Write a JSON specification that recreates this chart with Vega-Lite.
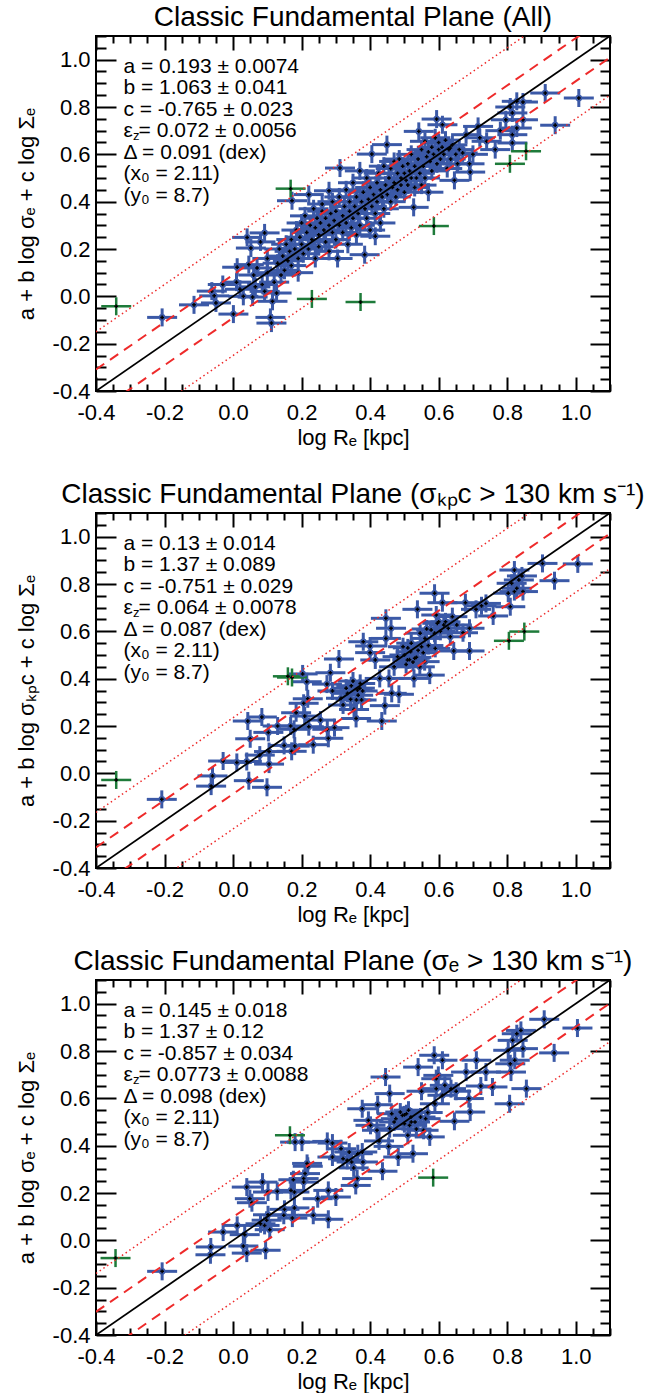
{
"$schema":"https://vega.github.io/schema/vega-lite/v6.json",
"background":"white",
"padding":{"left":14,"top":3,"right":0,"bottom":0},
"config":{
"font":"Liberation Sans",
"view":{"stroke":"black","strokeWidth":2},
"axis":{"grid":false,"domain":false,"tickColor":"black","tickWidth":2,"labelColor":"black","labelFontSize":22,"labelFont":"Liberation Sans","titleFont":"Liberation Sans","titleFontSize":22,"titleFontWeight":"normal","titleColor":"black","labelFlush":false,"labelOverlap":false},
"title":{"fontSize":28,"fontWeight":"normal","font":"Liberation Sans","color":"black","frame":"group","anchor":"middle","offset":-7}
},
"datasets":{
"b1":[{"x":-0.207,"y":-0.089},{"x":-0.114,"y":-0.036},{"x":-0.062,"y":0.022},{"x":-0.055,"y":0.002},{"x":-0.05,"y":-0.028},{"x":-0.03,"y":0.05},{"x":0.001,"y":-0.075},{"x":0.012,"y":0.123},{"x":0.01,"y":0.06},{"x":0.03,"y":0.0},{"x":0.02,"y":0.03},{"x":0.041,"y":0.249},{"x":0.052,"y":0.204},{"x":0.046,"y":0.134},{"x":0.057,"y":-0.003},{"x":0.06,"y":0.09},{"x":0.065,"y":0.04},{"x":0.07,"y":0.12},{"x":0.08,"y":0.23},{"x":0.085,"y":0.05},{"x":0.092,"y":0.268},{"x":0.092,"y":0.021},{"x":0.1,"y":0.16},{"x":0.1,"y":0.1},{"x":0.109,"y":-0.089},{"x":0.112,"y":-0.113},{"x":0.115,"y":-0.021},{"x":0.12,"y":0.06},{"x":0.127,"y":0.014},{"x":0.13,"y":0.14},{"x":0.135,"y":0.2},{"x":0.14,"y":0.09},{"x":0.145,"y":0.17},{"x":0.15,"y":0.11},{"x":0.155,"y":0.22},{"x":0.16,"y":0.15},{"x":0.165,"y":0.19},{"x":0.17,"y":0.13},{"x":0.17,"y":0.24},{"x":0.172,"y":0.404},{"x":0.18,"y":0.2},{"x":0.185,"y":0.28},{"x":0.19,"y":0.16},{"x":0.19,"y":0.1},{"x":0.195,"y":0.25},{"x":0.2,"y":0.31},{"x":0.2,"y":0.22},{"x":0.205,"y":0.18},{"x":0.21,"y":0.34},{"x":0.215,"y":0.27},{"x":0.221,"y":0.43},{"x":0.22,"y":0.2},{"x":0.225,"y":0.3},{"x":0.23,"y":0.24},{"x":0.235,"y":0.37},{"x":0.24,"y":0.16},{"x":0.24,"y":0.29},{"x":0.245,"y":0.33},{"x":0.25,"y":0.26},{"x":0.25,"y":0.21},{"x":0.255,"y":0.31},{"x":0.26,"y":0.36},{"x":0.26,"y":0.39},{"x":0.265,"y":0.28},{"x":0.27,"y":0.23},{"x":0.27,"y":0.33},{"x":0.28,"y":0.446},{"x":0.28,"y":0.3},{"x":0.28,"y":0.19},{"x":0.285,"y":0.35},{"x":0.29,"y":0.27},{"x":0.29,"y":0.4},{"x":0.295,"y":0.32},{"x":0.3,"y":0.24},{"x":0.3,"y":0.36},{"x":0.305,"y":0.16},{"x":0.31,"y":0.3},{"x":0.31,"y":0.42},{"x":0.312,"y":0.542},{"x":0.32,"y":0.34},{"x":0.32,"y":0.27},{"x":0.325,"y":0.38},{"x":0.33,"y":0.31},{"x":0.33,"y":0.45},{"x":0.335,"y":0.22},{"x":0.34,"y":0.36},{"x":0.34,"y":0.4},{"x":0.345,"y":0.29},{"x":0.35,"y":0.33},{"x":0.35,"y":0.48},{"x":0.355,"y":0.38},{"x":0.36,"y":0.26},{"x":0.36,"y":0.42},{"x":0.365,"y":0.35},{"x":0.37,"y":0.53},{"x":0.37,"y":0.3},{"x":0.375,"y":0.4},{"x":0.38,"y":0.44},{"x":0.384,"y":0.176},{"x":0.385,"y":0.37},{"x":0.39,"y":0.33},{"x":0.39,"y":0.5},{"x":0.395,"y":0.41},{"x":0.4,"y":0.46},{"x":0.4,"y":0.28},{"x":0.405,"y":0.601},{"x":0.405,"y":0.38},{"x":0.41,"y":0.43},{"x":0.415,"y":0.254},{"x":0.415,"y":0.35},{"x":0.42,"y":0.48},{"x":0.42,"y":0.4},{"x":0.425,"y":0.52},{"x":0.43,"y":0.45},{"x":0.43,"y":0.31},{"x":0.435,"y":0.42},{"x":0.44,"y":0.55},{"x":0.44,"y":0.37},{"x":0.445,"y":0.47},{"x":0.449,"y":0.641},{"x":0.45,"y":0.43},{"x":0.455,"y":0.5},{"x":0.46,"y":0.4},{"x":0.46,"y":0.54},{"x":0.465,"y":0.46},{"x":0.47,"y":0.57},{"x":0.47,"y":0.48},{"x":0.475,"y":0.42},{"x":0.48,"y":0.52},{"x":0.48,"y":0.45},{"x":0.485,"y":0.58},{"x":0.49,"y":0.5},{"x":0.49,"y":0.47},{"x":0.495,"y":0.55},{"x":0.5,"y":0.52},{"x":0.5,"y":0.44},{"x":0.505,"y":0.49},{"x":0.51,"y":0.56},{"x":0.51,"y":0.47},{"x":0.515,"y":0.53},{"x":0.52,"y":0.5},{"x":0.52,"y":0.6},{"x":0.527,"y":0.376},{"x":0.53,"y":0.46},{"x":0.53,"y":0.55},{"x":0.535,"y":0.5},{"x":0.542,"y":0.697},{"x":0.54,"y":0.58},{"x":0.545,"y":0.52},{"x":0.55,"y":0.62},{"x":0.55,"y":0.47},{"x":0.555,"y":0.55},{"x":0.56,"y":0.655},{"x":0.56,"y":0.5},{"x":0.565,"y":0.59},{"x":0.57,"y":0.61},{"x":0.57,"y":0.44},{"x":0.575,"y":0.57},{"x":0.58,"y":0.63},{"x":0.58,"y":0.53},{"x":0.585,"y":0.6},{"x":0.59,"y":0.67},{"x":0.594,"y":0.749},{"x":0.595,"y":0.56},{"x":0.6,"y":0.62},{"x":0.6,"y":0.65},{"x":0.605,"y":0.58},{"x":0.611,"y":0.725},{"x":0.61,"y":0.63},{"x":0.615,"y":0.6},{"x":0.62,"y":0.66},{"x":0.625,"y":0.54},{"x":0.63,"y":0.62},{"x":0.634,"y":0.627},{"x":0.635,"y":0.58},{"x":0.64,"y":0.64},{"x":0.646,"y":0.49},{"x":0.65,"y":0.6},{"x":0.655,"y":0.56},{"x":0.66,"y":0.62},{"x":0.67,"y":0.606},{"x":0.68,"y":0.683},{"x":0.69,"y":0.56},{"x":0.692,"y":0.525},{"x":0.7,"y":0.6},{"x":0.715,"y":0.718},{"x":0.72,"y":0.67},{"x":0.74,"y":0.655},{"x":0.765,"y":0.62},{"x":0.78,"y":0.7},{"x":0.796,"y":0.746},{"x":0.809,"y":0.8},{"x":0.815,"y":0.775},{"x":0.815,"y":0.683},{"x":0.815,"y":0.648},{"x":0.828,"y":0.711},{"x":0.828,"y":0.824},{"x":0.846,"y":0.821},{"x":0.846,"y":0.746},{"x":0.911,"y":0.859},{"x":0.94,"y":0.723},{"x":1.009,"y":0.838}],
"g1":[{"x":-0.341,"y":-0.042},{"x":0.168,"y":0.455},{"x":0.23,"y":-0.011},{"x":0.372,"y":-0.024},{"x":0.586,"y":0.297},{"x":0.808,"y":0.56},{"x":0.855,"y":0.613}],
"b2":[{"x":-0.208,"y":-0.11},{"x":-0.06,"y":-0.011},{"x":-0.064,"y":-0.054},{"x":-0.029,"y":0.052},{"x":0.011,"y":0.046},{"x":0.046,"y":-0.031},{"x":0.04,"y":0.05},{"x":0.099,"y":-0.059},{"x":0.043,"y":0.221},{"x":0.05,"y":0.146},{"x":0.084,"y":0.238},{"x":0.078,"y":0.077},{"x":0.105,"y":0.092},{"x":0.105,"y":0.039},{"x":0.103,"y":0.173},{"x":0.13,"y":0.2},{"x":0.149,"y":0.118},{"x":0.168,"y":0.2},{"x":0.171,"y":0.093},{"x":0.178,"y":0.186},{"x":0.18,"y":0.115},{"x":0.184,"y":0.256},{"x":0.203,"y":0.42},{"x":0.206,"y":0.296},{"x":0.218,"y":0.315},{"x":0.215,"y":0.387},{"x":0.209,"y":0.242},{"x":0.221,"y":0.197},{"x":0.234,"y":0.121},{"x":0.255,"y":0.225},{"x":0.275,"y":0.186},{"x":0.278,"y":0.148},{"x":0.284,"y":0.425},{"x":0.29,"y":0.348},{"x":0.274,"y":0.377},{"x":0.309,"y":0.483},{"x":0.296,"y":0.193},{"x":0.315,"y":0.317},{"x":0.321,"y":0.289},{"x":0.334,"y":0.338},{"x":0.343,"y":0.313},{"x":0.353,"y":0.27},{"x":0.359,"y":0.232},{"x":0.363,"y":0.352},{"x":0.371,"y":0.38},{"x":0.38,"y":0.556},{"x":0.378,"y":0.348},{"x":0.4,"y":0.538},{"x":0.4,"y":0.51},{"x":0.415,"y":0.479},{"x":0.428,"y":0.401},{"x":0.434,"y":0.221},{"x":0.443,"y":0.286},{"x":0.446,"y":0.655},{"x":0.446,"y":0.57},{"x":0.461,"y":0.613},{"x":0.455,"y":0.401},{"x":0.463,"y":0.338},{"x":0.48,"y":0.493},{"x":0.484,"y":0.334},{"x":0.496,"y":0.535},{"x":0.509,"y":0.479},{"x":0.518,"y":0.514},{"x":0.528,"y":0.401},{"x":0.53,"y":0.486},{"x":0.538,"y":0.693},{"x":0.546,"y":0.592},{"x":0.55,"y":0.535},{"x":0.559,"y":0.472},{"x":0.574,"y":0.415},{"x":0.578,"y":0.606},{"x":0.588,"y":0.761},{"x":0.593,"y":0.669},{"x":0.596,"y":0.634},{"x":0.588,"y":0.592},{"x":0.59,"y":0.528},{"x":0.611,"y":0.721},{"x":0.615,"y":0.627},{"x":0.628,"y":0.613},{"x":0.634,"y":0.577},{"x":0.64,"y":0.662},{"x":0.644,"y":0.517},{"x":0.653,"y":0.627},{"x":0.671,"y":0.594},{"x":0.678,"y":0.721},{"x":0.69,"y":0.517},{"x":0.69,"y":0.613},{"x":0.709,"y":0.693},{"x":0.725,"y":0.708},{"x":0.738,"y":0.718},{"x":0.759,"y":0.665},{"x":0.809,"y":0.704},{"x":0.803,"y":0.761},{"x":0.813,"y":0.803},{"x":0.821,"y":0.859},{"x":0.828,"y":0.782},{"x":0.834,"y":0.817},{"x":0.843,"y":0.834},{"x":0.846,"y":0.768},{"x":0.821,"y":0.768},{"x":0.903,"y":0.887},{"x":0.938,"y":0.814},{"x":1.006,"y":0.885},{"x":0.5,"y":0.5},{"x":0.505,"y":0.46},{"x":0.51,"y":0.53},{"x":0.515,"y":0.48},{"x":0.52,"y":0.55},{"x":0.525,"y":0.47},{"x":0.535,"y":0.49},{"x":0.54,"y":0.52},{"x":0.545,"y":0.45},{"x":0.555,"y":0.51},{"x":0.56,"y":0.57},{"x":0.565,"y":0.61},{"x":0.57,"y":0.54},{"x":0.36,"y":0.31},{"x":0.365,"y":0.33},{"x":0.37,"y":0.36},{"x":0.375,"y":0.31},{"x":0.6,"y":0.64},{"x":0.605,"y":0.6},{"x":0.62,"y":0.64},{"x":0.33,"y":0.36},{"x":0.345,"y":0.37},{"x":0.35,"y":0.39},{"x":0.47,"y":0.45}],
"g2":[{"x":-0.341,"y":-0.028},{"x":0.16,"y":0.41},{"x":0.172,"y":0.405},{"x":0.805,"y":0.56},{"x":0.85,"y":0.599}],
"b3":[{"x":-0.207,"y":-0.131},{"x":-0.065,"y":-0.028},{"x":-0.066,"y":-0.061},{"x":-0.029,"y":0.035},{"x":0.012,"y":0.063},{"x":0.034,"y":0.024},{"x":0.03,"y":-0.024},{"x":0.04,"y":-0.054},{"x":0.095,"y":-0.042},{"x":0.04,"y":0.225},{"x":0.049,"y":0.176},{"x":0.055,"y":0.159},{"x":0.086,"y":0.246},{"x":0.102,"y":0.204},{"x":0.08,"y":0.07},{"x":0.092,"y":0.063},{"x":0.098,"y":0.085},{"x":0.102,"y":0.108},{"x":0.107,"y":0.045},{"x":0.129,"y":0.207},{"x":0.15,"y":0.131},{"x":0.148,"y":0.106},{"x":0.169,"y":0.211},{"x":0.173,"y":0.094},{"x":0.179,"y":0.137},{"x":0.176,"y":0.256},{"x":0.179,"y":0.204},{"x":0.181,"y":0.415},{"x":0.201,"y":0.415},{"x":0.206,"y":0.261},{"x":0.21,"y":0.282},{"x":0.216,"y":0.325},{"x":0.218,"y":0.313},{"x":0.206,"y":0.246},{"x":0.234,"y":0.106},{"x":0.247,"y":0.176},{"x":0.275,"y":0.418},{"x":0.29,"y":0.411},{"x":0.278,"y":0.211},{"x":0.278,"y":0.089},{"x":0.29,"y":0.352},{"x":0.3,"y":0.183},{"x":0.315,"y":0.387},{"x":0.321,"y":0.345},{"x":0.333,"y":0.338},{"x":0.339,"y":0.373},{"x":0.346,"y":0.331},{"x":0.352,"y":0.306},{"x":0.358,"y":0.232},{"x":0.362,"y":0.261},{"x":0.364,"y":0.366},{"x":0.377,"y":0.373},{"x":0.379,"y":0.331},{"x":0.395,"y":0.507},{"x":0.377,"y":0.556},{"x":0.401,"y":0.486},{"x":0.42,"y":0.465},{"x":0.422,"y":0.573},{"x":0.426,"y":0.42},{"x":0.436,"y":0.292},{"x":0.445,"y":0.69},{"x":0.454,"y":0.397},{"x":0.457,"y":0.62},{"x":0.457,"y":0.472},{"x":0.463,"y":0.535},{"x":0.475,"y":0.514},{"x":0.482,"y":0.352},{"x":0.488,"y":0.542},{"x":0.494,"y":0.528},{"x":0.5,"y":0.493},{"x":0.506,"y":0.535},{"x":0.51,"y":0.444},{"x":0.515,"y":0.486},{"x":0.519,"y":0.521},{"x":0.525,"y":0.366},{"x":0.531,"y":0.5},{"x":0.54,"y":0.732},{"x":0.547,"y":0.521},{"x":0.55,"y":0.63},{"x":0.556,"y":0.465},{"x":0.562,"y":0.514},{"x":0.574,"y":0.437},{"x":0.587,"y":0.782},{"x":0.589,"y":0.577},{"x":0.593,"y":0.683},{"x":0.593,"y":0.641},{"x":0.599,"y":0.697},{"x":0.611,"y":0.761},{"x":0.611,"y":0.613},{"x":0.618,"y":0.655},{"x":0.636,"y":0.641},{"x":0.646,"y":0.503},{"x":0.651,"y":0.63},{"x":0.68,"y":0.711},{"x":0.688,"y":0.599},{"x":0.692,"y":0.542},{"x":0.71,"y":0.761},{"x":0.723,"y":0.652},{"x":0.738,"y":0.711},{"x":0.757,"y":0.648},{"x":0.803,"y":0.803},{"x":0.807,"y":0.577},{"x":0.809,"y":0.746},{"x":0.811,"y":0.711},{"x":0.816,"y":0.845},{"x":0.822,"y":0.761},{"x":0.828,"y":0.873},{"x":0.84,"y":0.887},{"x":0.846,"y":0.81},{"x":0.856,"y":0.641},{"x":0.908,"y":0.934},{"x":0.937,"y":0.792},{"x":1.005,"y":0.897},{"x":0.5,"y":0.53},{"x":0.512,"y":0.55},{"x":0.52,"y":0.5},{"x":0.535,"y":0.47},{"x":0.47,"y":0.5},{"x":0.568,"y":0.54}],
"g3":[{"x":-0.343,"y":-0.075},{"x":0.166,"y":0.444},{"x":0.584,"y":0.265}]
},
"spacing":21,
"vconcat":[
{"spacing":31,"vconcat":[
{
"width":514,"height":355,
"title":{"text":"Classic Fundamental Plane (All)"},
"resolve":{"axis":{"x":"independent","y":"independent"}},
"layer":[
{"data":{"name":"b1"},"mark":{"type":"tick","orient":"horizontal","size":30,"thickness":3,"color":"#3b59a7","opacity":1},
"encoding":{"x":{"field":"x","type":"quantitative","scale":{"domain":[-0.4,1.1],"nice":false,"zero":false},"axis":{"orient":"bottom","values":[-0.4,-0.35,-0.3,-0.25,-0.2,-0.15,-0.1,-0.05,0,0.05,0.1,0.15,0.2,0.25,0.3,0.35,0.4,0.45,0.5,0.55,0.6,0.65,0.7,0.75,0.8,0.85,0.9,0.95,1,1.05,1.1],"labelExpr":"abs(datum.value*5-round(datum.value*5))<0.001 ? (datum.value<-0.001 ? '-' : '') + format(abs(datum.value),'.1f') : ''","tickSize":{"condition":{"test":"abs(datum.value*5-round(datum.value*5))<0.001","value":-14},"value":-7},"labelPadding":25,"title":"log Rₑ [kpc]","titlePadding":-3}},
"y":{"field":"y","type":"quantitative","scale":{"domain":[-0.4,1.1],"nice":false,"zero":false},"axis":{"orient":"left","values":[-0.4,-0.35,-0.3,-0.25,-0.2,-0.15,-0.1,-0.05,0,0.05,0.1,0.15,0.2,0.25,0.3,0.35,0.4,0.45,0.5,0.55,0.6,0.65,0.7,0.75,0.8,0.85,0.9,0.95,1,1.05,1.1],"labelExpr":"abs(datum.value*5-round(datum.value*5))<0.001 ? (datum.value<-0.001 ? '-' : '') + format(abs(datum.value),'.1f') : ''","tickSize":{"condition":{"test":"abs(datum.value*5-round(datum.value*5))<0.001","value":-20},"value":-10},"labelPadding":26,"title":"a + b log σₑ + c log Σₑ","titlePadding":14}}}},
{"data":{"name":"b1"},"mark":{"type":"tick","orient":"vertical","size":18,"thickness":3,"color":"#3b59a7","opacity":1},
"encoding":{"x":{"field":"x","type":"quantitative","scale":{"domain":[-0.4,1.1],"nice":false,"zero":false},"axis":{"orient":"top","values":[-0.4,-0.35,-0.3,-0.25,-0.2,-0.15,-0.1,-0.05,0,0.05,0.1,0.15,0.2,0.25,0.3,0.35,0.4,0.45,0.5,0.55,0.6,0.65,0.7,0.75,0.8,0.85,0.9,0.95,1,1.05,1.1],"labels":false,"title":null,"tickSize":{"condition":{"test":"abs(datum.value*5-round(datum.value*5))<0.001","value":-14},"value":-7}}},
"y":{"field":"y","type":"quantitative","scale":{"domain":[-0.4,1.1],"nice":false,"zero":false},"axis":{"orient":"right","values":[-0.4,-0.35,-0.3,-0.25,-0.2,-0.15,-0.1,-0.05,0,0.05,0.1,0.15,0.2,0.25,0.3,0.35,0.4,0.45,0.5,0.55,0.6,0.65,0.7,0.75,0.8,0.85,0.9,0.95,1,1.05,1.1],"labels":false,"title":null,"tickSize":{"condition":{"test":"abs(datum.value*5-round(datum.value*5))<0.001","value":-20},"value":-10}}}}},
{"data":{"name":"g1"},"mark":{"type":"tick","orient":"horizontal","size":30,"thickness":2.5,"color":"#1e7b3a","opacity":1},"encoding":{"x":{"field":"x","type":"quantitative","scale":{"domain":[-0.4,1.1],"nice":false,"zero":false},"axis":null},"y":{"field":"y","type":"quantitative","scale":{"domain":[-0.4,1.1],"nice":false,"zero":false},"axis":null}}},
{"data":{"name":"g1"},"mark":{"type":"tick","orient":"vertical","size":18,"thickness":2.5,"color":"#1e7b3a","opacity":1},"encoding":{"x":{"field":"x","type":"quantitative","scale":{"domain":[-0.4,1.1],"nice":false,"zero":false},"axis":null},"y":{"field":"y","type":"quantitative","scale":{"domain":[-0.4,1.1],"nice":false,"zero":false},"axis":null}}},
{"data":{"name":"b1"},"mark":{"type":"point","shape":"circle","filled":true,"size":45,"color":"#3b59a7","opacity":1},"encoding":{"x":{"field":"x","type":"quantitative","scale":{"domain":[-0.4,1.1],"nice":false,"zero":false},"axis":null},"y":{"field":"y","type":"quantitative","scale":{"domain":[-0.4,1.1],"nice":false,"zero":false},"axis":null}}},
{"data":{"name":"b1"},"mark":{"type":"point","shape":"cross","filled":true,"size":14,"color":"black","opacity":1},"encoding":{"x":{"field":"x","type":"quantitative","scale":{"domain":[-0.4,1.1],"nice":false,"zero":false},"axis":null},"y":{"field":"y","type":"quantitative","scale":{"domain":[-0.4,1.1],"nice":false,"zero":false},"axis":null}}},
{"data":{"name":"g1"},"mark":{"type":"point","shape":"cross","filled":true,"size":14,"color":"black","opacity":1},"encoding":{"x":{"field":"x","type":"quantitative","scale":{"domain":[-0.4,1.1],"nice":false,"zero":false},"axis":null},"y":{"field":"y","type":"quantitative","scale":{"domain":[-0.4,1.1],"nice":false,"zero":false},"axis":null}}},
{"data":{"values":[{}]},"mark":{"type":"rule","color":"#ee2a2a","strokeWidth":1.5,"strokeDash":[1.5,3],"clip":true},"encoding":{"x":{"datum":-0.4,"type":"quantitative","scale":{"domain":[-0.4,1.1],"nice":false,"zero":false},"axis":null},"y":{"datum":-0.15,"type":"quantitative","scale":{"domain":[-0.4,1.1],"nice":false,"zero":false},"axis":null},"x2":{"datum":1.1},"y2":{"datum":1.35}}},
{"data":{"values":[{}]},"mark":{"type":"rule","color":"#ee2a2a","strokeWidth":1.5,"strokeDash":[1.5,3],"clip":true},"encoding":{"x":{"datum":-0.4,"type":"quantitative","scale":{"domain":[-0.4,1.1],"nice":false,"zero":false},"axis":null},"y":{"datum":-0.65,"type":"quantitative","scale":{"domain":[-0.4,1.1],"nice":false,"zero":false},"axis":null},"x2":{"datum":1.1},"y2":{"datum":0.85}}},
{"data":{"values":[{}]},"mark":{"type":"rule","color":"#ee2a2a","strokeWidth":2,"strokeDash":[10,7],"clip":true},"encoding":{"x":{"datum":-0.4,"type":"quantitative","scale":{"domain":[-0.4,1.1],"nice":false,"zero":false},"axis":null},"y":{"datum":-0.309,"type":"quantitative","scale":{"domain":[-0.4,1.1],"nice":false,"zero":false},"axis":null},"x2":{"datum":1.1},"y2":{"datum":1.191}}},
{"data":{"values":[{}]},"mark":{"type":"rule","color":"#ee2a2a","strokeWidth":2,"strokeDash":[10,7],"clip":true},"encoding":{"x":{"datum":-0.4,"type":"quantitative","scale":{"domain":[-0.4,1.1],"nice":false,"zero":false},"axis":null},"y":{"datum":-0.491,"type":"quantitative","scale":{"domain":[-0.4,1.1],"nice":false,"zero":false},"axis":null},"x2":{"datum":1.1},"y2":{"datum":1.009}}},
{"data":{"values":[{}]},"mark":{"type":"rule","color":"black","strokeWidth":1.8,"clip":true},"encoding":{"x":{"datum":-0.4,"type":"quantitative","scale":{"domain":[-0.4,1.1],"nice":false,"zero":false},"axis":null},"y":{"datum":-0.4,"type":"quantitative","scale":{"domain":[-0.4,1.1],"nice":false,"zero":false},"axis":null},"x2":{"datum":1.1},"y2":{"datum":1.1}}},
{"data":{"values":[{}]},"mark":{"type":"text","align":"left","baseline":"top","fontSize":21,"lineHeight":21.5,"color":"black","text":["a = 0.193 ± 0.0074","b = 1.063 ± 0.041","c = -0.765 ± 0.023","ε  = 0.072 ± 0.0056","Δ = 0.091 (dex)","(x₀ = 2.11)","(y₀ = 8.7)"]},"encoding":{"x":{"datum":-0.32,"type":"quantitative","scale":{"domain":[-0.4,1.1],"nice":false,"zero":false},"axis":null},"y":{"datum":1.017,"type":"quantitative","scale":{"domain":[-0.4,1.1],"nice":false,"zero":false},"axis":null}}},
{"data":{"values":[{}]},"mark":{"type":"text","align":"left","baseline":"alphabetic","fontSize":13,"dx":9.5,"color":"black","text":"z"},"encoding":{"x":{"datum":-0.32,"type":"quantitative","scale":{"domain":[-0.4,1.1],"nice":false,"zero":false},"axis":null},"y":{"datum":0.66,"type":"quantitative","scale":{"domain":[-0.4,1.1],"nice":false,"zero":false},"axis":null}}}
]
},
{
"width":514,"height":355,
"title":{"text":"Classic Fundamental Plane (σₖₚc > 130 km s⁻¹)"},
"resolve":{"axis":{"x":"independent","y":"independent"}},
"layer":[
{"data":{"name":"b2"},"mark":{"type":"tick","orient":"horizontal","size":30,"thickness":3,"color":"#3b59a7","opacity":1},
"encoding":{"x":{"field":"x","type":"quantitative","scale":{"domain":[-0.4,1.1],"nice":false,"zero":false},"axis":{"orient":"bottom","values":[-0.4,-0.35,-0.3,-0.25,-0.2,-0.15,-0.1,-0.05,0,0.05,0.1,0.15,0.2,0.25,0.3,0.35,0.4,0.45,0.5,0.55,0.6,0.65,0.7,0.75,0.8,0.85,0.9,0.95,1,1.05,1.1],"labelExpr":"abs(datum.value*5-round(datum.value*5))<0.001 ? (datum.value<-0.001 ? '-' : '') + format(abs(datum.value),'.1f') : ''","tickSize":{"condition":{"test":"abs(datum.value*5-round(datum.value*5))<0.001","value":-14},"value":-7},"labelPadding":25,"title":"log Rₑ [kpc]","titlePadding":-3}},
"y":{"field":"y","type":"quantitative","scale":{"domain":[-0.4,1.1],"nice":false,"zero":false},"axis":{"orient":"left","values":[-0.4,-0.35,-0.3,-0.25,-0.2,-0.15,-0.1,-0.05,0,0.05,0.1,0.15,0.2,0.25,0.3,0.35,0.4,0.45,0.5,0.55,0.6,0.65,0.7,0.75,0.8,0.85,0.9,0.95,1,1.05,1.1],"labelExpr":"abs(datum.value*5-round(datum.value*5))<0.001 ? (datum.value<-0.001 ? '-' : '') + format(abs(datum.value),'.1f') : ''","tickSize":{"condition":{"test":"abs(datum.value*5-round(datum.value*5))<0.001","value":-20},"value":-10},"labelPadding":26,"title":"a + b log σₖₚc + c log Σₑ","titlePadding":14}}}},
{"data":{"name":"b2"},"mark":{"type":"tick","orient":"vertical","size":18,"thickness":3,"color":"#3b59a7","opacity":1},
"encoding":{"x":{"field":"x","type":"quantitative","scale":{"domain":[-0.4,1.1],"nice":false,"zero":false},"axis":{"orient":"top","values":[-0.4,-0.35,-0.3,-0.25,-0.2,-0.15,-0.1,-0.05,0,0.05,0.1,0.15,0.2,0.25,0.3,0.35,0.4,0.45,0.5,0.55,0.6,0.65,0.7,0.75,0.8,0.85,0.9,0.95,1,1.05,1.1],"labels":false,"title":null,"tickSize":{"condition":{"test":"abs(datum.value*5-round(datum.value*5))<0.001","value":-14},"value":-7}}},
"y":{"field":"y","type":"quantitative","scale":{"domain":[-0.4,1.1],"nice":false,"zero":false},"axis":{"orient":"right","values":[-0.4,-0.35,-0.3,-0.25,-0.2,-0.15,-0.1,-0.05,0,0.05,0.1,0.15,0.2,0.25,0.3,0.35,0.4,0.45,0.5,0.55,0.6,0.65,0.7,0.75,0.8,0.85,0.9,0.95,1,1.05,1.1],"labels":false,"title":null,"tickSize":{"condition":{"test":"abs(datum.value*5-round(datum.value*5))<0.001","value":-20},"value":-10}}}}},
{"data":{"name":"g2"},"mark":{"type":"tick","orient":"horizontal","size":30,"thickness":2.5,"color":"#1e7b3a","opacity":1},"encoding":{"x":{"field":"x","type":"quantitative","scale":{"domain":[-0.4,1.1],"nice":false,"zero":false},"axis":null},"y":{"field":"y","type":"quantitative","scale":{"domain":[-0.4,1.1],"nice":false,"zero":false},"axis":null}}},
{"data":{"name":"g2"},"mark":{"type":"tick","orient":"vertical","size":18,"thickness":2.5,"color":"#1e7b3a","opacity":1},"encoding":{"x":{"field":"x","type":"quantitative","scale":{"domain":[-0.4,1.1],"nice":false,"zero":false},"axis":null},"y":{"field":"y","type":"quantitative","scale":{"domain":[-0.4,1.1],"nice":false,"zero":false},"axis":null}}},
{"data":{"name":"b2"},"mark":{"type":"point","shape":"circle","filled":true,"size":45,"color":"#3b59a7","opacity":1},"encoding":{"x":{"field":"x","type":"quantitative","scale":{"domain":[-0.4,1.1],"nice":false,"zero":false},"axis":null},"y":{"field":"y","type":"quantitative","scale":{"domain":[-0.4,1.1],"nice":false,"zero":false},"axis":null}}},
{"data":{"name":"b2"},"mark":{"type":"point","shape":"cross","filled":true,"size":14,"color":"black","opacity":1},"encoding":{"x":{"field":"x","type":"quantitative","scale":{"domain":[-0.4,1.1],"nice":false,"zero":false},"axis":null},"y":{"field":"y","type":"quantitative","scale":{"domain":[-0.4,1.1],"nice":false,"zero":false},"axis":null}}},
{"data":{"name":"g2"},"mark":{"type":"point","shape":"cross","filled":true,"size":14,"color":"black","opacity":1},"encoding":{"x":{"field":"x","type":"quantitative","scale":{"domain":[-0.4,1.1],"nice":false,"zero":false},"axis":null},"y":{"field":"y","type":"quantitative","scale":{"domain":[-0.4,1.1],"nice":false,"zero":false},"axis":null}}},
{"data":{"values":[{}]},"mark":{"type":"rule","color":"#ee2a2a","strokeWidth":1.5,"strokeDash":[1.5,3],"clip":true},"encoding":{"x":{"datum":-0.4,"type":"quantitative","scale":{"domain":[-0.4,1.1],"nice":false,"zero":false},"axis":null},"y":{"datum":-0.165,"type":"quantitative","scale":{"domain":[-0.4,1.1],"nice":false,"zero":false},"axis":null},"x2":{"datum":1.1},"y2":{"datum":1.335}}},
{"data":{"values":[{}]},"mark":{"type":"rule","color":"#ee2a2a","strokeWidth":1.5,"strokeDash":[1.5,3],"clip":true},"encoding":{"x":{"datum":-0.4,"type":"quantitative","scale":{"domain":[-0.4,1.1],"nice":false,"zero":false},"axis":null},"y":{"datum":-0.635,"type":"quantitative","scale":{"domain":[-0.4,1.1],"nice":false,"zero":false},"axis":null},"x2":{"datum":1.1},"y2":{"datum":0.865}}},
{"data":{"values":[{}]},"mark":{"type":"rule","color":"#ee2a2a","strokeWidth":2,"strokeDash":[10,7],"clip":true},"encoding":{"x":{"datum":-0.4,"type":"quantitative","scale":{"domain":[-0.4,1.1],"nice":false,"zero":false},"axis":null},"y":{"datum":-0.313,"type":"quantitative","scale":{"domain":[-0.4,1.1],"nice":false,"zero":false},"axis":null},"x2":{"datum":1.1},"y2":{"datum":1.187}}},
{"data":{"values":[{}]},"mark":{"type":"rule","color":"#ee2a2a","strokeWidth":2,"strokeDash":[10,7],"clip":true},"encoding":{"x":{"datum":-0.4,"type":"quantitative","scale":{"domain":[-0.4,1.1],"nice":false,"zero":false},"axis":null},"y":{"datum":-0.487,"type":"quantitative","scale":{"domain":[-0.4,1.1],"nice":false,"zero":false},"axis":null},"x2":{"datum":1.1},"y2":{"datum":1.013}}},
{"data":{"values":[{}]},"mark":{"type":"rule","color":"black","strokeWidth":1.8,"clip":true},"encoding":{"x":{"datum":-0.4,"type":"quantitative","scale":{"domain":[-0.4,1.1],"nice":false,"zero":false},"axis":null},"y":{"datum":-0.4,"type":"quantitative","scale":{"domain":[-0.4,1.1],"nice":false,"zero":false},"axis":null},"x2":{"datum":1.1},"y2":{"datum":1.1}}},
{"data":{"values":[{}]},"mark":{"type":"text","align":"left","baseline":"top","fontSize":21,"lineHeight":21.5,"color":"black","text":["a = 0.13 ± 0.014","b = 1.37 ± 0.089","c = -0.751 ± 0.029","ε  = 0.064 ± 0.0078","Δ = 0.087 (dex)","(x₀ = 2.11)","(y₀ = 8.7)"]},"encoding":{"x":{"datum":-0.32,"type":"quantitative","scale":{"domain":[-0.4,1.1],"nice":false,"zero":false},"axis":null},"y":{"datum":1.017,"type":"quantitative","scale":{"domain":[-0.4,1.1],"nice":false,"zero":false},"axis":null}}},
{"data":{"values":[{}]},"mark":{"type":"text","align":"left","baseline":"alphabetic","fontSize":13,"dx":9.5,"color":"black","text":"z"},"encoding":{"x":{"datum":-0.32,"type":"quantitative","scale":{"domain":[-0.4,1.1],"nice":false,"zero":false},"axis":null},"y":{"datum":0.66,"type":"quantitative","scale":{"domain":[-0.4,1.1],"nice":false,"zero":false},"axis":null}}}
]
}
]},
{
"width":514,"height":355,
"title":{"text":"Classic Fundamental Plane (σₑ > 130 km s⁻¹)"},
"resolve":{"axis":{"x":"independent","y":"independent"}},
"layer":[
{"data":{"name":"b3"},"mark":{"type":"tick","orient":"horizontal","size":30,"thickness":3,"color":"#3b59a7","opacity":1},
"encoding":{"x":{"field":"x","type":"quantitative","scale":{"domain":[-0.4,1.1],"nice":false,"zero":false},"axis":{"orient":"bottom","values":[-0.4,-0.35,-0.3,-0.25,-0.2,-0.15,-0.1,-0.05,0,0.05,0.1,0.15,0.2,0.25,0.3,0.35,0.4,0.45,0.5,0.55,0.6,0.65,0.7,0.75,0.8,0.85,0.9,0.95,1,1.05,1.1],"labelExpr":"abs(datum.value*5-round(datum.value*5))<0.001 ? (datum.value<-0.001 ? '-' : '') + format(abs(datum.value),'.1f') : ''","tickSize":{"condition":{"test":"abs(datum.value*5-round(datum.value*5))<0.001","value":-14},"value":-7},"labelPadding":25,"title":"log Rₑ [kpc]","titlePadding":-3}},
"y":{"field":"y","type":"quantitative","scale":{"domain":[-0.4,1.1],"nice":false,"zero":false},"axis":{"orient":"left","values":[-0.4,-0.35,-0.3,-0.25,-0.2,-0.15,-0.1,-0.05,0,0.05,0.1,0.15,0.2,0.25,0.3,0.35,0.4,0.45,0.5,0.55,0.6,0.65,0.7,0.75,0.8,0.85,0.9,0.95,1,1.05,1.1],"labelExpr":"abs(datum.value*5-round(datum.value*5))<0.001 ? (datum.value<-0.001 ? '-' : '') + format(abs(datum.value),'.1f') : ''","tickSize":{"condition":{"test":"abs(datum.value*5-round(datum.value*5))<0.001","value":-20},"value":-10},"labelPadding":26,"title":"a + b log σₑ + c log Σₑ","titlePadding":14}}}},
{"data":{"name":"b3"},"mark":{"type":"tick","orient":"vertical","size":18,"thickness":3,"color":"#3b59a7","opacity":1},
"encoding":{"x":{"field":"x","type":"quantitative","scale":{"domain":[-0.4,1.1],"nice":false,"zero":false},"axis":{"orient":"top","values":[-0.4,-0.35,-0.3,-0.25,-0.2,-0.15,-0.1,-0.05,0,0.05,0.1,0.15,0.2,0.25,0.3,0.35,0.4,0.45,0.5,0.55,0.6,0.65,0.7,0.75,0.8,0.85,0.9,0.95,1,1.05,1.1],"labels":false,"title":null,"tickSize":{"condition":{"test":"abs(datum.value*5-round(datum.value*5))<0.001","value":-14},"value":-7}}},
"y":{"field":"y","type":"quantitative","scale":{"domain":[-0.4,1.1],"nice":false,"zero":false},"axis":{"orient":"right","values":[-0.4,-0.35,-0.3,-0.25,-0.2,-0.15,-0.1,-0.05,0,0.05,0.1,0.15,0.2,0.25,0.3,0.35,0.4,0.45,0.5,0.55,0.6,0.65,0.7,0.75,0.8,0.85,0.9,0.95,1,1.05,1.1],"labels":false,"title":null,"tickSize":{"condition":{"test":"abs(datum.value*5-round(datum.value*5))<0.001","value":-20},"value":-10}}}}},
{"data":{"name":"g3"},"mark":{"type":"tick","orient":"horizontal","size":30,"thickness":2.5,"color":"#1e7b3a","opacity":1},"encoding":{"x":{"field":"x","type":"quantitative","scale":{"domain":[-0.4,1.1],"nice":false,"zero":false},"axis":null},"y":{"field":"y","type":"quantitative","scale":{"domain":[-0.4,1.1],"nice":false,"zero":false},"axis":null}}},
{"data":{"name":"g3"},"mark":{"type":"tick","orient":"vertical","size":18,"thickness":2.5,"color":"#1e7b3a","opacity":1},"encoding":{"x":{"field":"x","type":"quantitative","scale":{"domain":[-0.4,1.1],"nice":false,"zero":false},"axis":null},"y":{"field":"y","type":"quantitative","scale":{"domain":[-0.4,1.1],"nice":false,"zero":false},"axis":null}}},
{"data":{"name":"b3"},"mark":{"type":"point","shape":"circle","filled":true,"size":45,"color":"#3b59a7","opacity":1},"encoding":{"x":{"field":"x","type":"quantitative","scale":{"domain":[-0.4,1.1],"nice":false,"zero":false},"axis":null},"y":{"field":"y","type":"quantitative","scale":{"domain":[-0.4,1.1],"nice":false,"zero":false},"axis":null}}},
{"data":{"name":"b3"},"mark":{"type":"point","shape":"cross","filled":true,"size":14,"color":"black","opacity":1},"encoding":{"x":{"field":"x","type":"quantitative","scale":{"domain":[-0.4,1.1],"nice":false,"zero":false},"axis":null},"y":{"field":"y","type":"quantitative","scale":{"domain":[-0.4,1.1],"nice":false,"zero":false},"axis":null}}},
{"data":{"name":"g3"},"mark":{"type":"point","shape":"cross","filled":true,"size":14,"color":"black","opacity":1},"encoding":{"x":{"field":"x","type":"quantitative","scale":{"domain":[-0.4,1.1],"nice":false,"zero":false},"axis":null},"y":{"field":"y","type":"quantitative","scale":{"domain":[-0.4,1.1],"nice":false,"zero":false},"axis":null}}},
{"data":{"values":[{}]},"mark":{"type":"rule","color":"#ee2a2a","strokeWidth":1.5,"strokeDash":[1.5,3],"clip":true},"encoding":{"x":{"datum":-0.4,"type":"quantitative","scale":{"domain":[-0.4,1.1],"nice":false,"zero":false},"axis":null},"y":{"datum":-0.14,"type":"quantitative","scale":{"domain":[-0.4,1.1],"nice":false,"zero":false},"axis":null},"x2":{"datum":1.1},"y2":{"datum":1.36}}},
{"data":{"values":[{}]},"mark":{"type":"rule","color":"#ee2a2a","strokeWidth":1.5,"strokeDash":[1.5,3],"clip":true},"encoding":{"x":{"datum":-0.4,"type":"quantitative","scale":{"domain":[-0.4,1.1],"nice":false,"zero":false},"axis":null},"y":{"datum":-0.66,"type":"quantitative","scale":{"domain":[-0.4,1.1],"nice":false,"zero":false},"axis":null},"x2":{"datum":1.1},"y2":{"datum":0.84}}},
{"data":{"values":[{}]},"mark":{"type":"rule","color":"#ee2a2a","strokeWidth":2,"strokeDash":[10,7],"clip":true},"encoding":{"x":{"datum":-0.4,"type":"quantitative","scale":{"domain":[-0.4,1.1],"nice":false,"zero":false},"axis":null},"y":{"datum":-0.302,"type":"quantitative","scale":{"domain":[-0.4,1.1],"nice":false,"zero":false},"axis":null},"x2":{"datum":1.1},"y2":{"datum":1.198}}},
{"data":{"values":[{}]},"mark":{"type":"rule","color":"#ee2a2a","strokeWidth":2,"strokeDash":[10,7],"clip":true},"encoding":{"x":{"datum":-0.4,"type":"quantitative","scale":{"domain":[-0.4,1.1],"nice":false,"zero":false},"axis":null},"y":{"datum":-0.498,"type":"quantitative","scale":{"domain":[-0.4,1.1],"nice":false,"zero":false},"axis":null},"x2":{"datum":1.1},"y2":{"datum":1.002}}},
{"data":{"values":[{}]},"mark":{"type":"rule","color":"black","strokeWidth":1.8,"clip":true},"encoding":{"x":{"datum":-0.4,"type":"quantitative","scale":{"domain":[-0.4,1.1],"nice":false,"zero":false},"axis":null},"y":{"datum":-0.4,"type":"quantitative","scale":{"domain":[-0.4,1.1],"nice":false,"zero":false},"axis":null},"x2":{"datum":1.1},"y2":{"datum":1.1}}},
{"data":{"values":[{}]},"mark":{"type":"text","align":"left","baseline":"top","fontSize":21,"lineHeight":21.5,"color":"black","text":["a = 0.145 ± 0.018","b = 1.37 ± 0.12","c = -0.857 ± 0.034","ε  = 0.0773 ± 0.0088","Δ = 0.098 (dex)","(x₀ = 2.11)","(y₀ = 8.7)"]},"encoding":{"x":{"datum":-0.32,"type":"quantitative","scale":{"domain":[-0.4,1.1],"nice":false,"zero":false},"axis":null},"y":{"datum":1.017,"type":"quantitative","scale":{"domain":[-0.4,1.1],"nice":false,"zero":false},"axis":null}}},
{"data":{"values":[{}]},"mark":{"type":"text","align":"left","baseline":"alphabetic","fontSize":13,"dx":9.5,"color":"black","text":"z"},"encoding":{"x":{"datum":-0.32,"type":"quantitative","scale":{"domain":[-0.4,1.1],"nice":false,"zero":false},"axis":null},"y":{"datum":0.66,"type":"quantitative","scale":{"domain":[-0.4,1.1],"nice":false,"zero":false},"axis":null}}}
]
}
]
}
